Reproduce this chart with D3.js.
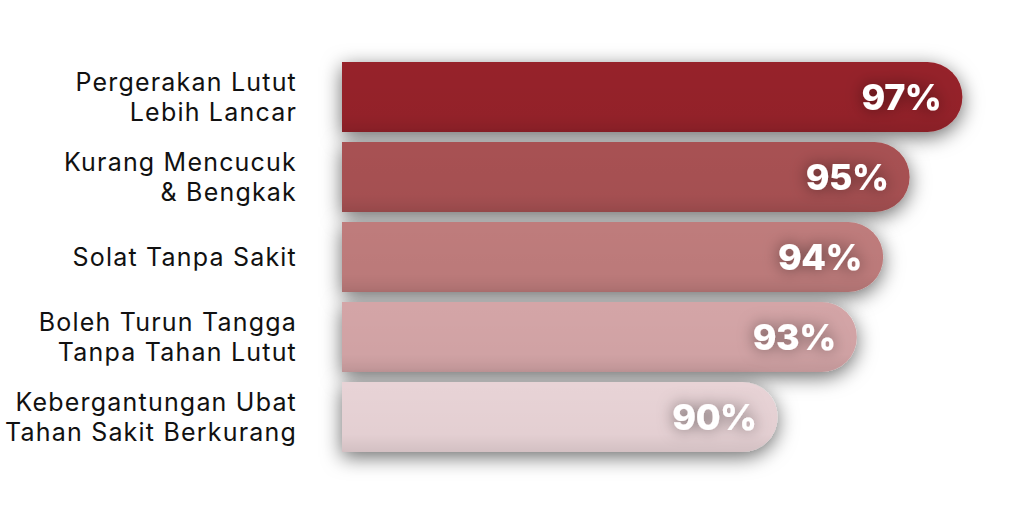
<!DOCTYPE html>
<html>
<head>
<meta charset="utf-8">
<script src="https://cdn.jsdelivr.net/npm/d3@7"></script>
<style>
  html, body { margin: 0; padding: 0; background: #ffffff; }
  svg { display: block; }
</style>
</head>
<body>
<svg id="chart" width="1024" height="518"></svg>
<script>
const categories = [
  ["Pergerakan Lutut", "Lebih Lancar"],
  ["Kurang Mencucuk", "& Bengkak"],
  ["Solat Tanpa Sakit"],
  ["Boleh Turun Tangga", "Tanpa Tahan Lutut"],
  ["Kebergantungan Ubat", "Tahan Sakit Berkurang"]
];
const values = [97, 95, 94, 93, 90];
const colors = ["#96222a", "#a85152", "#bf7b7b", "#d4a5a7", "#e8d3d6"];

const svg = d3.select("#chart");
const defs = svg.append("defs");

const barShadow = defs.append("filter").attr("id", "barShadow")
  .attr("x", "-10%").attr("y", "-50%").attr("width", "120%").attr("height", "200%");
barShadow.append("feDropShadow").attr("dx", 0).attr("dy", 5)
  .attr("stdDeviation", 10).attr("flood-color", "#000").attr("flood-opacity", 0.58);

const textGlow = defs.append("filter").attr("id", "textGlow")
  .attr("x", "-50%").attr("y", "-80%").attr("width", "200%").attr("height", "260%");
textGlow.append("feDropShadow").attr("dx", 0).attr("dy", 0)
  .attr("stdDeviation", 8).attr("flood-color", "#000").attr("flood-opacity", 0.5);

const shade = defs.append("linearGradient").attr("id", "shade")
  .attr("x1", 0).attr("y1", 0).attr("x2", 0).attr("y2", 1);
shade.append("stop").attr("offset", "0%").attr("stop-color", "#000").attr("stop-opacity", 0);
shade.append("stop").attr("offset", "75%").attr("stop-color", "#000").attr("stop-opacity", 0.02);
shade.append("stop").attr("offset", "100%").attr("stop-color", "#000").attr("stop-opacity", 0.09);

const x = d3.scaleLinear().domain([73.5, 100]).range([342, 342 + 26.4 * 26.5]);
const y = d3.scaleBand().domain(d3.range(values.length)).range([62, 452]).paddingInner(0.125).paddingOuter(0);

function barPath(i) {
  const x1 = x(values[i]), y0 = y(i), h = y.bandwidth(), r = h / 2;
  const left = x(x.domain()[0]);
  return `M${left},${y0} H${x1 - r} A${r},${r} 0 0 1 ${x1 - r},${y0 + h} H${left} Z`;
}

const g = svg.append("g");
const bars = g.selectAll("g.bar").data(values).join("g").attr("class", "bar");

bars.append("path").attr("d", (d, i) => barPath(i))
  .attr("fill", (d, i) => colors[i]).attr("filter", "url(#barShadow)");
bars.append("path").attr("d", (d, i) => barPath(i)).attr("fill", "url(#shade)");

bars.append("text")
  .attr("x", (d, i) => x(d) - 21)
  .attr("y", (d, i) => y(i) + y.bandwidth() / 2 + 12.5)
  .attr("text-anchor", "end")
  .attr("fill", "#ffffff")
  .attr("font-family", "Inter, 'Open Sans', sans-serif")
  .attr("font-weight", 800)
  .attr("font-size", 36)
  .attr("letter-spacing", "-0.5")
  .attr("filter", "url(#textGlow)")
  .text(d => d + "%");

const labels = svg.append("g").selectAll("text").data(categories).join("text")
  .attr("text-anchor", "end")
  .attr("fill", "#111111")
  .attr("font-family", "Inter, 'Open Sans', sans-serif")
  .attr("font-size", 25)
  .attr("letter-spacing", "1.2")
  .attr("font-weight", 400)
  .attr("transform", (d, i) => `translate(297, ${y(i) + y.bandwidth() / 2})`);

labels.each(function(lines) {
  const t = d3.select(this);
  const lh = 30;
  const start = -(lines.length - 1) * lh / 2;
  lines.forEach((line, k) => {
    t.append("tspan").attr("x", 0).attr("y", start + k * lh + 9).text(line);
  });
});
</script>
</body>
</html>
